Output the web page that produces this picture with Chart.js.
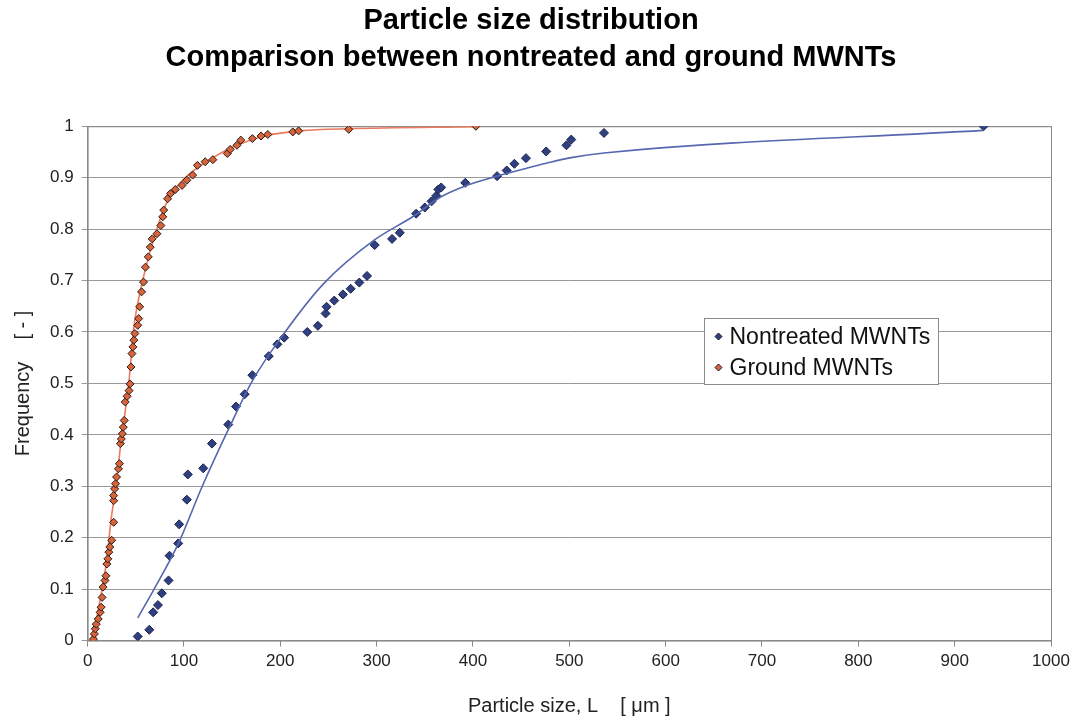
<!DOCTYPE html>
<html>
<head>
<meta charset="utf-8">
<script src="https://cdn.jsdelivr.net/npm/chart.js@4.4.1/dist/chart.umd.min.js"></script>
<style>
  html, body { margin: 0; padding: 0; background: #fff; }
  #wrap { width: 1079px; height: 720px; position: relative; }
</style>
</head>
<body>
<div id="wrap"><canvas id="chart"></canvas></div>
<script>
// measured particle sizes (um) and cumulative frequency
const nontreatedSize = [52, 64, 68, 73, 77, 84, 85, 94, 95, 103, 104, 120, 129, 146, 154, 163, 171, 188, 197, 204,
  228, 239, 247, 248, 256, 265, 273, 282, 290, 298, 316, 324, 341, 350, 357, 362, 364, 367, 392, 425, 435, 443, 455,
  476, 497, 502, 536, 930];
const nontreatedFreq = [0.008, 0.021, 0.055, 0.069, 0.092, 0.117, 0.165, 0.189, 0.226, 0.274, 0.323, 0.335, 0.383,
  0.420, 0.455, 0.479, 0.516, 0.553, 0.576, 0.589, 0.600, 0.612, 0.636, 0.649, 0.661, 0.673, 0.684, 0.696, 0.709,
  0.769, 0.781, 0.793, 0.830, 0.842, 0.854, 0.865, 0.877, 0.881, 0.890, 0.903, 0.914, 0.927, 0.938, 0.951, 0.963,
  0.974, 0.987, 1.0];

const groundSize = [6, 7, 8, 9, 11, 13, 14, 15, 16, 18, 19, 20, 21, 22, 23, 25, 27, 27, 27, 28, 29, 30, 32, 33, 34,
  35, 36, 37, 38, 39, 41, 43, 44, 45, 46, 47, 48, 49, 52, 53, 54, 56, 58, 60, 63, 65, 67, 72, 76, 78, 79, 83, 86,
  91, 98, 103, 109, 114, 122, 130, 145, 148, 155, 159, 171, 180, 187, 213, 219, 271, 403];
const groundFreq = [0.003, 0.013, 0.023, 0.032, 0.042, 0.055, 0.065, 0.084, 0.104, 0.117, 0.126, 0.149, 0.159,
  0.172, 0.182, 0.195, 0.230, 0.272, 0.282, 0.295, 0.305, 0.318, 0.334, 0.344, 0.383, 0.392, 0.402, 0.415, 0.428,
  0.464, 0.475, 0.486, 0.499, 0.532, 0.558, 0.571, 0.584, 0.597, 0.613, 0.626, 0.649, 0.678, 0.697, 0.726, 0.746,
  0.765, 0.781, 0.791, 0.807, 0.824, 0.837, 0.859, 0.869, 0.877, 0.885, 0.895, 0.905, 0.924, 0.931, 0.935, 0.947,
  0.955, 0.963, 0.973, 0.976, 0.981, 0.984, 0.989, 0.991, 0.994, 1.0];

// fitted distribution curves
const nontreatedFitSize = [52, 69, 94, 119, 146, 171, 205, 245, 297, 339, 366, 392, 425, 455, 476, 502, 536, 930];
const nontreatedFitFreq = [0.044, 0.100, 0.188, 0.300, 0.410, 0.505, 0.600, 0.694, 0.778, 0.826, 0.862, 0.884,
  0.903, 0.918, 0.928, 0.939, 0.948, 0.992];

const groundFitSize = [4, 10, 15, 20, 24, 30, 34, 43, 48, 58, 70, 83, 97, 131, 159, 186, 221, 271, 403];
const groundFitFreq = [0, 0.05, 0.10, 0.16, 0.23, 0.31, 0.376, 0.506, 0.61, 0.707, 0.79, 0.855, 0.892, 0.94, 0.966,
  0.982, 0.991, 0.995, 0.999];

const seriesNames = ['Nontreated MWNTs', 'Ground MWNTs'];

const toPoints = (xs, ys) => xs.map((x, i) => ({ x: x, y: ys[i] }));

const FONT = "Arial, 'Liberation Sans', sans-serif";
const BLUE_PT = '#2f3f80';
const ORANGE_PT = '#d8643c';

// plot frame
const framePlugin = {
  id: 'frame',
  beforeDatasetsDraw(chart) {
    const { ctx, chartArea: a } = chart;
    ctx.save();
    ctx.strokeStyle = '#8a8a8a';
    ctx.lineWidth = 1;
    ctx.strokeRect(a.left + 0.5, a.top + 0.5, a.right - a.left, a.bottom - a.top);
    ctx.restore();
  }
};

// boxed legend inside the plot
const boxLegend = {
  id: 'boxLegend',
  afterDraw(chart) {
    const { ctx, chartArea: a } = chart;
    const w = a.right - a.left, h = a.bottom - a.top;
    const x = Math.round(a.left + w * 0.64) + 0.5;
    const y = Math.round(a.top + h * 0.372) + 0.5;
    const bw = 234, bh = 66;
    ctx.save();
    ctx.fillStyle = '#fff';
    ctx.fillRect(x, y, bw, bh);
    ctx.strokeStyle = '#8a8a8a';
    ctx.lineWidth = 1;
    ctx.strokeRect(x, y, bw, bh);
    const fills = [BLUE_PT, ORANGE_PT];
    seriesNames.forEach((name, i) => {
      const cy = y + 18 + i * 31;
      const cx = x + 14;
      ctx.beginPath();
      ctx.moveTo(cx, cy - 3.5);
      ctx.lineTo(cx + 3.5, cy);
      ctx.lineTo(cx, cy + 3.5);
      ctx.lineTo(cx - 3.5, cy);
      ctx.closePath();
      ctx.fillStyle = fills[i];
      ctx.fill();
      ctx.strokeStyle = '#1a1a2a';
      ctx.stroke();
      ctx.fillStyle = '#111';
      ctx.font = '23px ' + FONT;
      ctx.textBaseline = 'middle';
      ctx.fillText(name, x + 25, cy + 1);
    });
    ctx.restore();
  }
};

new Chart(document.getElementById('chart'), {
  type: 'scatter',
  data: {
    datasets: [
      {
        label: seriesNames[0],
        data: toPoints(nontreatedSize, nontreatedFreq),
        pointStyle: 'rectRot',
        pointRadius: 4.5,
        backgroundColor: BLUE_PT,
        borderColor: '#1b2250',
        borderWidth: 1,
        order: 2
      },
      {
        label: seriesNames[1],
        data: toPoints(groundSize, groundFreq),
        pointStyle: 'rectRot',
        pointRadius: 4,
        backgroundColor: ORANGE_PT,
        borderColor: '#2a1a14',
        borderWidth: 1,
        order: 1
      },
      {
        label: 'Nontreated fit',
        type: 'line',
        data: toPoints(nontreatedFitSize, nontreatedFitFreq),
        borderColor: '#5567ae',
        borderWidth: 1.6,
        pointRadius: 0,
        cubicInterpolationMode: 'monotone',
        fill: false,
        order: 0
      },
      {
        label: 'Ground fit',
        type: 'line',
        data: toPoints(groundFitSize, groundFitFreq),
        borderColor: '#ec7a5c',
        borderWidth: 1.6,
        pointRadius: 0,
        cubicInterpolationMode: 'monotone',
        fill: false,
        order: 3
      }
    ]
  },
  options: {
    responsive: true,
    maintainAspectRatio: false,
    animation: false,
    layout: { padding: { left: 11, right: 28, top: 0, bottom: 2 } },
    plugins: {
      legend: { display: false },
      tooltip: { enabled: false },
      title: {
        display: true,
        text: ['Particle size distribution', 'Comparison between nontreated and ground MWNTs'],
        color: '#000',
        font: { family: FONT, size: 29, weight: 'bold', lineHeight: 1.28 },
        padding: { top: 2, bottom: 50 }
      }
    },
    scales: {
      x: {
        type: 'linear',
        min: 0,
        max: 1000,
        ticks: {
          stepSize: 100, color: '#222', font: { family: FONT, size: 17 }, padding: 5,
          callback: (v) => String(v)
        },
        grid: { display: true, drawOnChartArea: false, drawTicks: true, tickLength: 6, color: '#8a8a8a' },
        border: { color: '#8a8a8a' },
        title: {
          display: true,
          text: 'Particle size, L    [ μm ]',
          color: '#222',
          font: { family: FONT, size: 20 },
          padding: { top: 17, bottom: 0 }
        }
      },
      y: {
        type: 'linear',
        min: 0,
        max: 1,
        ticks: {
          stepSize: 0.1, color: '#222', font: { family: FONT, size: 17 }, padding: 8,
          callback: (v) => String(+v.toFixed(1))
        },
        grid: { color: '#9a9a9a', drawTicks: true, tickLength: 6 },
        border: { color: '#8a8a8a' },
        title: {
          display: true,
          text: 'Frequency    [ - ]',
          color: '#222',
          font: { family: FONT, size: 20 },
          padding: { top: 0, bottom: 7 }
        }
      }
    }
  },
  plugins: [framePlugin, boxLegend]
});
</script>
</body>
</html>
